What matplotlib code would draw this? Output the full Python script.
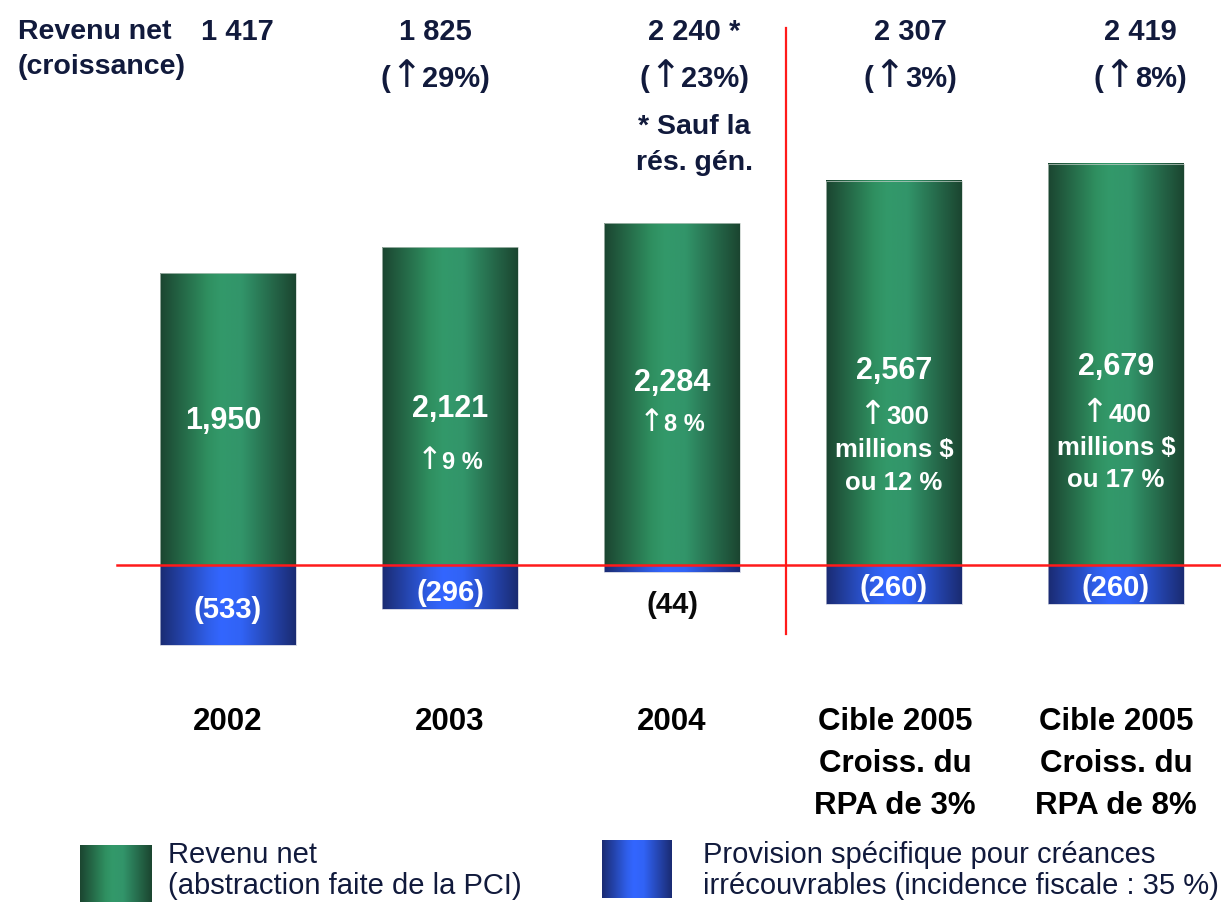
import matplotlib.pyplot as plt
import numpy as np
from matplotlib.colors import LinearSegmentedColormap
from matplotlib.transforms import IdentityTransform

# data
years = ['2002', '2003', '2004', 'Cible 2005\nCroiss. du\nRPA de 3%', 'Cible 2005\nCroiss. du\nRPA de 8%']
net_income = [1950, 2121, 2284, 2567, 2679]
provision = [-533, -296, -44, -260, -260]
net_labels = ['1,950', '2,121', '2,284', '2,567', '2,679']
prov_labels = ['(533)', '(296)', '(44)', '(260)', '(260)']
# '^' marks where an up arrow goes
growth_inside = ['', '^9 %', '^8 %', '^300\nmillions $\nou 12 %', '^400\nmillions $\nou 17 %']
header_values = ['1 417', '1 825', '2 240 *', '2 307', '2 419']
header_growth = ['', '(^29%)', '(^23%)', '(^3%)', '(^8%)']

W, H = 1221, 902
NAVY = '#111a3c'
plt.rcParams['font.family'] = ['Liberation Sans', 'DejaVu Sans']

green_cmap = LinearSegmentedColormap.from_list(
    'g', [(0, '#1b4530'), (0.35, '#2f8f60'), (0.45, '#33996a'), (0.6, '#32956a'), (1, '#1b4530')])
blue_cmap = LinearSegmentedColormap.from_list(
    'b', [(0, '#1a2b72'), (0.35, '#2f5ee8'), (0.45, '#3366ff'), (0.6, '#3163f5'), (1, '#1a2b72')])
grad = np.linspace(0, 1, 256).reshape(1, -1)

fig = plt.figure(figsize=(W / 100, H / 100), dpi=100)
ax = fig.add_axes([0, 0, 1, 1])
ax.axis('off')
renderer = fig.canvas.get_renderer()

# pixel mapping: bar spacing 222 px, first centre at 228 px, zero line at 565 px
px_per_unit = 0.1497
x = np.arange(len(years))
xlim = (-228 / 222, (W - 228) / 222)
ylim = (-(H - 565) / px_per_unit, 565 / px_per_unit)

def gradient_bars(bars, cmap):
    for b in bars:
        x0, y0 = b.get_x(), b.get_y()
        ax.imshow(grad, cmap=cmap, extent=(x0, x0 + b.get_width(), y0, y0 + b.get_height()),
                  aspect='auto', zorder=1, interpolation='bicubic')

width = 136 / 222
gb = ax.bar(x, net_income, width, color='none', edgecolor='#c4cec8', linewidth=0.5, zorder=2)
bb = ax.bar(x, provision, width, color='none', edgecolor='#c0c4d8', linewidth=0.5, zorder=2)
gradient_bars(gb, green_cmap)
gradient_bars(bb, blue_cmap)
ax.set_xlim(*xlim)
ax.set_ylim(*ylim)

# red reference lines
ax.plot([-0.5, xlim[1]], [0, 0], color='#ff1a1a', lw=1.8, zorder=3)
ax.plot([2.514, 2.514], [-461, 3587], color='#ff1a1a', lw=1.6, zorder=3)


def rich_line(px, py, s, fs, color, weight='bold', align='center'):
    """put a line at pixel (px, py from top); '^' becomes a thin DejaVu arrow"""
    parts = []
    for k, chunk in enumerate(s.split('^')):
        if k > 0:
            parts.append(('\u2191', 'DejaVu Sans', 'normal', fs * 1.3))
        if chunk:
            parts.append((chunk, 'Liberation Sans', weight, fs))
    base = H - py - 0.716 * fs * 100 / 72 / 2
    texts, widths = [], []
    for txt, fam, wt, size in parts:
        t = fig.text(0, 0, txt, family=fam, fontweight=wt, fontsize=size, color=color,
                     ha='left', va='baseline', transform=IdentityTransform(), zorder=5)
        texts.append(t)
        widths.append(t.get_window_extent(renderer).width)
    cur = px - sum(widths) / 2 if align == 'center' else px
    for t, w in zip(texts, widths):
        t.set_position((cur, base))
        cur += w


def data_px(xd, yd):
    dx, dy = ax.transData.transform((xd, yd))
    return dx, H - dy


# value labels inside bars
value_y = [982, 1062, 1236, 1316, 1343]
for i, v in enumerate(net_labels):
    px, py = data_px(x[i] - (0.02 if i == 0 else 0), value_y[i])
    rich_line(px, py, v, 22, 'white')

sub_y = [[], [695], [949], [1002, 782, 561], [1015, 795, 581]]
for i, txt in enumerate(growth_inside):
    for j, line in enumerate(txt.split('\n') if txt else []):
        fs = 17 if i < 3 else 18.5
        px, py = data_px(x[i], sub_y[i][j])
        rich_line(px, py, line, fs, 'white')

prov_y = [-283, -170, -254, -140, -140]
for i, v in enumerate(prov_labels):
    px, py = data_px(x[i], prov_y[i])
    rich_line(px, py, v, 21, '#0a0a0a' if i == 2 else 'white')

# header block
rich_line(18, 29, 'Revenu net', 20.5, NAVY, align='left')
rich_line(18, 64, '(croissance)', 20.5, NAVY, align='left')
header_x = [237, 435, 694, 910, 1140]
for i in range(len(years)):
    rich_line(header_x[i], 30, header_values[i], 21, NAVY)
    if header_growth[i]:
        rich_line(header_x[i], 77, header_growth[i], 21, NAVY)
rich_line(694, 124, '* Sauf la', 20.5, NAVY)
rich_line(694, 160, 'r\u00e9s. g\u00e9n.', 20.5, NAVY)

# category labels
cat_x = [228, 450, 672, 895, 1116]
for i, lab in enumerate(years):
    for j, line in enumerate(lab.split('\n')):
        rich_line(cat_x[i], 719 + 42 * j, line, 22.5, 'black')

# legend
lg = fig.add_axes([80 / W, 0, 72 / W, 57 / H])
lg.imshow(grad, cmap=green_cmap, aspect='auto', interpolation='bicubic')
lg.axis('off')
lb = fig.add_axes([602 / W, 4 / H, 70 / W, 58 / H])
lb.imshow(grad, cmap=blue_cmap, aspect='auto', interpolation='bicubic')
lb.axis('off')

def ftext(px, py, s, **kw):
    fig.text(px / W, 1 - py / H, s, **kw)

ftext(168, 855, 'Revenu net', ha='left', va='center', color=NAVY, fontsize=21)
ftext(168, 886, '(abstraction faite de la PCI)', ha='left', va='center', color=NAVY, fontsize=21)
ftext(703, 855, 'Provision sp\u00e9cifique pour cr\u00e9ances', ha='left', va='center', color=NAVY, fontsize=21)
ftext(703, 886, 'irr\u00e9couvrables (incidence fiscale : 35 %)', ha='left', va='center', color=NAVY, fontsize=21)

fig.savefig('out.png', dpi=100)
